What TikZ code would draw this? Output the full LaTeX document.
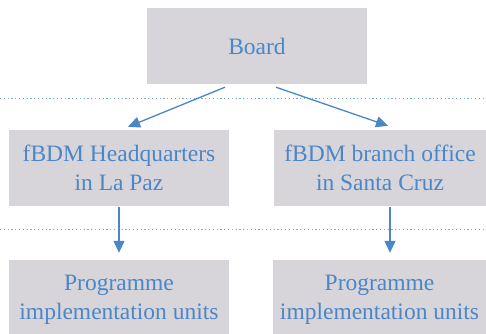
\documentclass[tikz,border=0pt]{standalone}
\usepackage{fontspec}
\setmainfont{Liberation Serif}
\usetikzlibrary{arrows.meta,calc}
\definecolor{boxgray}{RGB}{215,213,218}
\definecolor{txtblue}{RGB}{74,134,200}
\definecolor{dotblue}{RGB}{120,168,215}
\tikzset{
  orgbox/.style={fill=boxgray, draw=none, text=txtblue, align=center,
    inner sep=0pt, font=\fontsize{23.5}{29.5}\selectfont},
  conn/.style={draw=txtblue, line width=1.3pt, -{Triangle[length=12pt,width=11pt]}},
  sep/.style={draw=dotblue, line width=1pt, dash pattern=on 1.2pt off 2.6pt}
}
\begin{document}
\begin{tikzpicture}[x=1pt,y=1pt]
\useasboundingbox (0,0) rectangle (486,-333);
\node[orgbox, minimum width=220pt, minimum height=76pt] (board) at (257,-46) {Board};
\node[orgbox, minimum width=220pt, minimum height=76pt] (hq) at (119,-168) {fBDM Headquarters\\in La Paz};
\node[orgbox, minimum width=212pt, minimum height=76pt] (branch) at (380,-168) {fBDM branch office\\in Santa Cruz};
\node[orgbox, minimum width=220pt, minimum height=80pt] (piul) at (119,-300) {Programme\\implementation units};
\node[orgbox, minimum width=213pt, minimum height=80pt] (piur) at (379.5,-300) {Programme\\implementation units};
\coordinate (s1a) at (0,-98);
\coordinate (s1b) at (486,-98);
\coordinate (s2a) at (0,-229);
\coordinate (s2b) at (486,-229);
\draw[sep] (s1a) -- (s1b);
\draw[sep] (s2a) -- (s2b);
\draw[conn] ($(board.south)+(-32,-3)$) -- ($(hq.north)+(9,3)$);
\draw[conn] ($(board.south)+(19,-3)$) -- ($(branch.north)+(8,4)$);
\draw[conn] ($(hq.south)+(0,-1)$) -- ($(piul.north)+(0,7)$);
\draw[conn] ($(branch.south)+(10,-1)$) -- ($(piur.north)+(10.5,7)$);
\end{tikzpicture}
\end{document}
